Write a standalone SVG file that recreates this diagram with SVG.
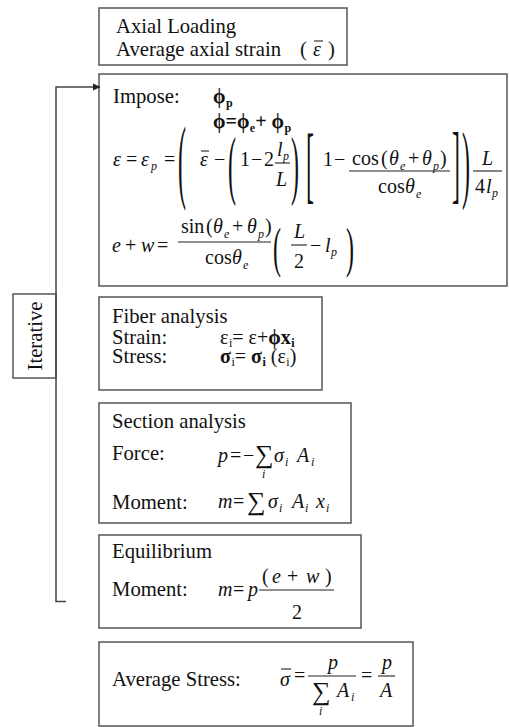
<svg xmlns="http://www.w3.org/2000/svg" width="509" height="727" viewBox="0 0 509 727" font-family="'Liberation Serif', Tinos, 'Times New Roman', 'DejaVu Serif', serif">
<style>
text { font-family: 'Liberation Serif', Tinos, 'Times New Roman', 'DejaVu Serif', serif; fill: #111; }
.t { font-size: 20.7px; }
.m { font-size: 20px; }
.i { font-style: italic; }
.b { font-weight: bold; }
.s { font-size: 12px; }
.sig { font-size: 26px; }
.box { fill: #fff; stroke: #555; stroke-width: 1.5; }
.bar { stroke: #222; stroke-width: 1.1; fill: none; }
.conn { fill: none; stroke: #444; stroke-width: 1.5; }
.d { font-size: 24px; }
</style>
<defs>
<marker id="ah" markerWidth="8" markerHeight="8" refX="7" refY="4" orient="auto" markerUnits="userSpaceOnUse"><path d="M0,0.5 L7.5,4 L0,7.5 Z" fill="#222"/></marker>
</defs>
<rect width="509" height="727" fill="#fff"/>

<g id="axial-loading">
<rect class="box" x="99" y="8" width="248" height="57"/>
<text class="t" x="116" y="33">Axial Loading</text>
<text class="t" x="116" y="56">Average axial strain</text>
<text class="t" x="300" y="56">(</text>
<text class="m i" x="313" y="56">ε</text>
<line class="bar" x1="314" y1="41" x2="323" y2="41"/>
<text class="t" x="328" y="56">)</text>
</g>

<g id="impose">
<rect class="box" x="99" y="74" width="408" height="212"/>
<text class="t" x="113" y="103">Impose:</text>
<text class="m b" x="213" y="103">ϕ<tspan class="s" dx="0.5" dy="4">p</tspan></text>
<text class="m b" x="213" y="128">ϕ=ϕ<tspan class="s" dx="0.5" dy="4">e</tspan><tspan dy="-4">+ ϕ</tspan><tspan class="s" dx="0.5" dy="4">p</tspan></text>
<text class="m i" x="113" y="166">ε</text>
<text class="m" x="126" y="166">=</text>
<text class="m i" x="141" y="166">ε</text><text class="s i" x="151" y="170">p</text>
<text class="m" x="164" y="166">=</text>
<text class="d" transform="translate(178,190.6) scale(1,3.86)">(</text>
<text class="m i" x="200" y="166">ε</text>
<line class="bar" x1="201" y1="151" x2="209" y2="151"/>
<text class="m" x="214" y="166">−</text>
<text class="d" transform="translate(228,189.5) scale(1,3.18)">(</text>
<text class="m" x="240" y="166">1</text>
<text class="m" x="251" y="166">−</text>
<text class="m" x="264" y="166">2</text>
<text class="m i" x="277" y="156">l</text><text class="s i" x="283" y="160">p</text>
<line class="bar" x1="275" y1="163" x2="290" y2="163"/>
<text class="m i" x="276" y="186">L</text>
<text class="d" transform="translate(291,189.5) scale(1,3.18)">)</text>
<text class="d" transform="translate(306,192.5) scale(1,3.49)">[</text>
<text class="m" x="323" y="166">1</text>
<text class="m" x="334" y="166">−</text>
<line class="bar" x1="349" y1="171" x2="450" y2="171"/>
<text class="m" x="352" y="165">cos</text>
<text class="m" x="381" y="165">(</text>
<text class="m i" x="389" y="165">θ</text><text class="s i" x="400" y="170">e</text>
<text class="m" x="408" y="165">+</text>
<text class="m i" x="422" y="165">θ</text><text class="s i" x="433" y="170">p</text>
<text class="m" x="440" y="165">)</text>
<text class="m" x="378" y="193">cos</text>
<text class="m i" x="405" y="193">θ</text><text class="s i" x="416" y="198">e</text>
<text class="d" transform="translate(452,192.2) scale(1,3.59)">]</text>
<text class="d" transform="translate(462,191.6) scale(1,3.62)">)</text>
<line class="bar" x1="473" y1="171" x2="502" y2="171"/>
<text class="m i" x="482" y="165">L</text>
<text class="m" x="475" y="193">4</text>
<text class="m i" x="486" y="193">l</text><text class="s i" x="492" y="197">p</text>
<text class="m i" x="112" y="252">e</text>
<text class="m" x="125" y="252">+</text>
<text class="m i" x="141" y="252">w</text>
<text class="m" x="157" y="252">=</text>
<line class="bar" x1="178" y1="242" x2="271" y2="242"/>
<text class="m" x="181" y="233">sin</text>
<text class="m" x="206" y="233">(</text>
<text class="m i" x="213" y="233">θ</text><text class="s i" x="224" y="238">e</text>
<text class="m" x="232" y="233">+</text>
<text class="m i" x="247" y="233">θ</text><text class="s i" x="258" y="238">p</text>
<text class="m" x="265" y="233">)</text>
<text class="m" x="205" y="264">cos</text>
<text class="m i" x="232" y="264">θ</text><text class="s i" x="243" y="269">e</text>
<text class="d" transform="translate(273,266.4) scale(1,2.25)">(</text>
<text class="m i" x="294" y="238">L</text>
<line class="bar" x1="291" y1="245" x2="307" y2="245"/>
<text class="m" x="294" y="268">2</text>
<text class="m" x="310" y="252">−</text>
<text class="m i" x="325" y="252">l</text><text class="s i" x="331" y="256">p</text>
<text class="d" transform="translate(346,266.4) scale(1,2.25)">)</text>
</g>

<g id="fiber-analysis">
<rect class="box" x="99" y="297" width="223" height="93"/>
<text class="t" x="112" y="323">Fiber analysis</text>
<text class="t" x="112" y="344">Strain:</text>
<text class="t" x="112" y="363">Stress:</text>
<text class="m" x="220" y="344">ε<tspan class="s" dx="0.5" dy="3">i</tspan><tspan dy="-3">= ε+</tspan><tspan class="b">ϕx</tspan><tspan class="s b" dx="0.5" dy="3">i</tspan></text>
<text class="m" x="220" y="363"><tspan class="b">σ</tspan><tspan class="s" dx="0.5" dy="3">i</tspan><tspan dy="-3">= </tspan><tspan class="b">σ</tspan><tspan class="s b" dx="0.5" dy="3">i</tspan><tspan dy="-3"> (ε</tspan><tspan class="s" dx="0.5" dy="3">i</tspan><tspan dy="-3">)</tspan></text>
</g>

<g id="section-analysis">
<rect class="box" x="99" y="403" width="252" height="120"/>
<text class="t" x="112" y="428">Section analysis</text>
<text class="t" x="112" y="460">Force:</text>
<text class="t" x="112" y="509">Moment:</text>
<text class="m i" x="218" y="462">p</text>
<text class="m" x="230" y="462">=</text>
<text class="m" x="243" y="462">−</text>
<text class="sig" x="255" y="463">∑</text>
<text class="s i" x="262" y="478">i</text>
<text class="m i" x="274" y="462">σ</text><text class="s i" x="285" y="466">i</text>
<text class="m i" x="297" y="462">A</text><text class="s i" x="311" y="466">i</text>
<text class="m i" x="218" y="508">m</text>
<text class="m" x="233" y="508">=</text>
<text class="sig" x="247" y="510">∑</text>
<text class="m i" x="268" y="508">σ</text><text class="s i" x="279" y="512">i</text>
<text class="m i" x="292" y="508">A</text><text class="s i" x="305" y="512">i</text>
<text class="m i" x="316" y="508">x</text><text class="s i" x="326" y="512">i</text>
</g>

<g id="equilibrium">
<rect class="box" x="99" y="535" width="262" height="93"/>
<text class="t" x="112" y="558">Equilibrium</text>
<text class="t" x="112" y="596">Moment:</text>
<text class="m i" x="218" y="596">m</text>
<text class="m" x="233" y="596">=</text>
<text class="m i" x="248" y="596">p</text>
<line class="bar" x1="259" y1="590" x2="334" y2="590"/>
<text class="m" x="262" y="583">(</text>
<text class="m i" x="272" y="583">e</text>
<text class="m" x="287" y="583">+</text>
<text class="m i" x="306" y="583">w</text>
<text class="m" x="325" y="583">)</text>
<text class="m" x="292" y="619">2</text>
</g>

<g id="average-stress">
<rect class="box" x="99" y="642" width="314" height="84"/>
<text class="t" x="112" y="686">Average Stress:</text>
<text class="m i" x="280" y="686">σ</text>
<line class="bar" x1="281" y1="669" x2="291" y2="669"/>
<text class="m" x="294" y="682">=</text>
<line class="bar" x1="308" y1="676" x2="356" y2="676"/>
<text class="m i" x="328" y="669">p</text>
<text class="sig" x="312" y="700">∑</text>
<text class="s i" x="319" y="715">i</text>
<text class="m i" x="337" y="697">A</text><text class="s i" x="351" y="701">i</text>
<text class="m" x="361" y="682">=</text>
<line class="bar" x1="378" y1="676" x2="395" y2="676"/>
<text class="m i" x="382" y="669">p</text>
<text class="m i" x="380" y="697">A</text>
</g>

<g id="iterative">
<rect class="box" x="13" y="294" width="43" height="84"/>
<text class="t" transform="translate(42,336) rotate(-90)" text-anchor="middle">Iterative</text>
</g>

<g id="connectors">
<path class="conn" d="M66,601.5 H56 V87 H100" marker-end="url(#ah)"/>
</g>
</svg>
